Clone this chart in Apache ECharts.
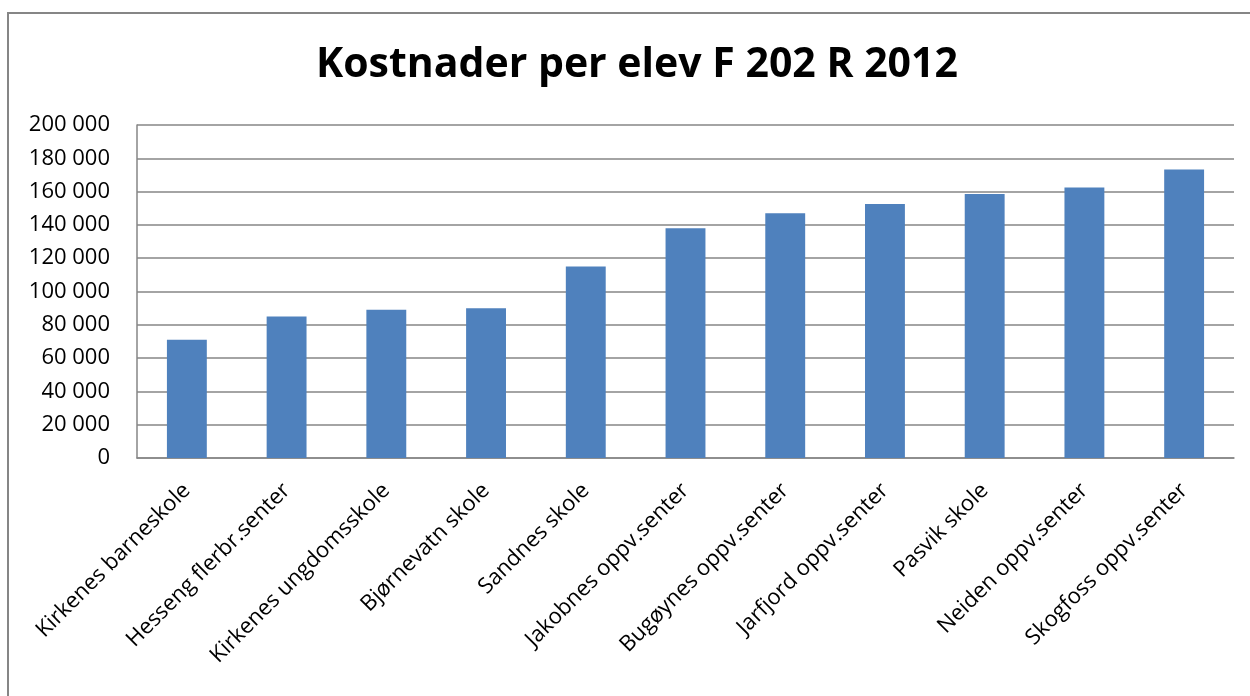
<!DOCTYPE html>
<html>
<head>
<meta charset="utf-8">
<script src="https://cdn.jsdelivr.net/npm/echarts@6/dist/echarts.min.js"></script>
<style>
html,body{margin:0;padding:0;background:#fff;overflow:hidden;}
#frame{position:absolute;left:7px;top:12px;width:1260px;height:700px;border:2px solid #868686;box-sizing:border-box;}
#chart{position:absolute;left:0;top:0;width:1250px;height:696px;}
</style>
</head>
<body>
<div id="frame"></div>
<div id="chart"></div>
<script>
const titleText = "Kostnader per elev F 202 R 2012";
const categories = ["Kirkenes barneskole","Hesseng flerbr.senter","Kirkenes ungdomsskole","Bjørnevatn skole","Sandnes skole","Jakobnes oppv.senter","Bugøynes oppv.senter","Jarfjord oppv.senter","Pasvik skole","Neiden oppv.senter","Skogfoss oppv.senter"];
const values = [71000, 85000, 89000, 90000, 115000, 138000, 147000, 152600, 158600, 162400, 173300];

const chart = echarts.init(document.getElementById('chart'));
chart.setOption({
  animation: false,
  title: {
    text: titleText, left: 311, top: 40,
    textStyle: {fontFamily: 'Open Sans', fontWeight: 'bold', fontSize: 41, color: '#000'}
  },
  grid: {left: 137, right: 16, top: 125, bottom: 238},
  xAxis: {
    type: 'category', data: categories,
    axisLine: {lineStyle: {color: '#868686', width: 1.5}},
    axisTick: {show: false},
    axisLabel: {rotate: 45, interval: 0, fontFamily: 'Open Sans', fontSize: 22, color: '#000', margin: 29}
  },
  yAxis: {
    type: 'value', min: 0, max: 200000, interval: 20000,
    axisLine: {show: true, lineStyle: {color: '#868686', width: 1.5}},
    axisTick: {show: false},
    splitLine: {lineStyle: {color: '#868686', width: 1.5}},
    axisLabel: {
      fontFamily: 'Open Sans', fontSize: 22, color: '#000', margin: 27,
      formatter: v => String(v).replace(/\B(?=(\d{3})+(?!\d))/g, ' ')
    }
  },
  series: [{
    type: 'bar', data: values, barWidth: '40%',
    itemStyle: {color: '#4F81BD'}
  }]
});
</script>
</body>
</html>
